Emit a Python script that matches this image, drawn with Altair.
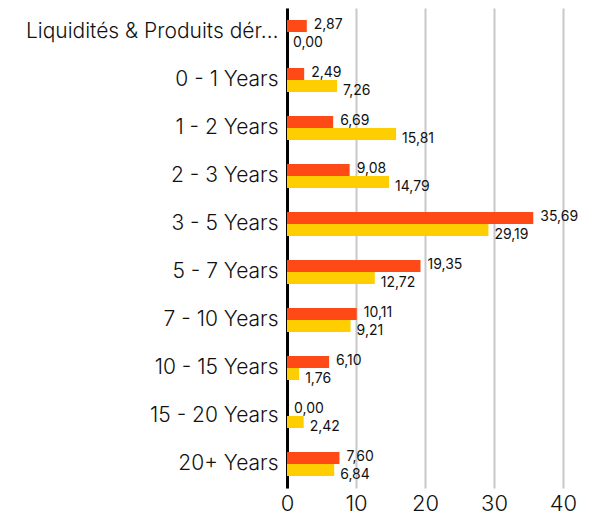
import altair as alt
import pandas as pd

categories = ["Liquidités & Produits dér…", "0 - 1 Years", "1 - 2 Years", "2 - 3 Years", "3 - 5 Years",
              "5 - 7 Years", "7 - 10 Years", "10 - 15 Years", "15 - 20 Years", "20+ Years"]
series_names = ["Fonds", "Indice"]
fund_values = [2.87, 2.49, 6.69, 9.08, 35.69, 19.35, 10.11, 6.10, 0.00, 7.60]
index_values = [0.00, 7.26, 15.81, 14.79, 29.19, 12.72, 9.21, 1.76, 2.42, 6.84]
colors = ["#FF4A17", "#FFCE00"]
x_ticks = [0, 10, 20, 30, 40]

rows = []
for c, a, b in zip(categories, fund_values, index_values):
    rows.append({"cat": c, "series": series_names[0], "value": a})
    rows.append({"cat": c, "series": series_names[1], "value": b})
df = pd.DataFrame(rows)

FONT = "Inter"

y_enc = alt.Y("cat:N", sort=categories, title=None,
              scale=alt.Scale(paddingInner=0.5, paddingOuter=0.25),
              axis=alt.Axis(labelFontSize=21, labelFont=FONT, labelColor="#111",
                            labelFontWeight=300,
                            labelPadding=9, labelLimit=290, ticks=False,
                            domainColor="#000", domainWidth=3,
                            minExtent=274, maxExtent=274))
x_enc = alt.X("value:Q", title=None,
              scale=alt.Scale(domain=[0, 40], nice=False),
              axis=alt.Axis(values=x_ticks, labelFontSize=22, labelFont=FONT, labelColor="#111",
                            labelFontWeight=300,
                            domain=False, ticks=False, gridColor="#c8c8c8", gridWidth=2,
                            labelPadding=5, labelFlush=False))
yoff = alt.YOffset("series:N", sort=series_names)

base = alt.Chart(df).transform_calculate(
    label="replace(format(datum.value, '.2f'), '.', ',')"
)

bars = base.mark_bar().encode(
    y=y_enc, x=x_enc, yOffset=yoff,
    color=alt.Color("series:N", sort=series_names,
                    scale=alt.Scale(domain=series_names, range=colors), legend=None),
)

txt_fund = base.transform_filter(alt.datum.series == series_names[0]).mark_text(
    align="left", baseline="middle", dx=7, dy=-1, fontSize=14, font=FONT, color="#111"
).encode(y=alt.Y("cat:N", sort=categories), x="value:Q", yOffset=yoff, text="label:N")

txt_index = base.transform_filter(alt.datum.series == series_names[1]).mark_text(
    align="left", baseline="middle", dx=6, dy=5, fontSize=14, font=FONT, color="#111"
).encode(y=alt.Y("cat:N", sort=categories), x="value:Q", yOffset=yoff, text="label:N")

chart = alt.layer(bars, txt_fund, txt_index).properties(
    width=276, height=480, padding={"left": 5, "right": 5, "top": 0, "bottom": 5}
).configure_view(stroke=None)

chart.save("out.html", embed_options={"renderer": "svg", "actions": False})
